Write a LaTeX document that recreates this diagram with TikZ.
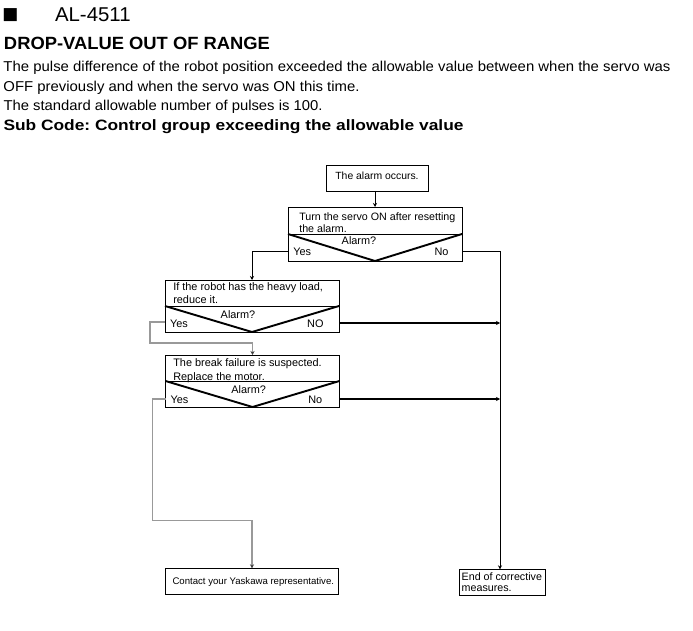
\documentclass[tikz,border=0pt]{standalone}
\usepackage{fontspec}
\setmainfont{Liberation Sans}
\newfontfamily\symfont{DejaVu Sans}
\usetikzlibrary{arrows.meta,calc}
\frenchspacing
\begin{document}
\begin{tikzpicture}[x=1pt,y=-1pt,
  every node/.style={inner sep=0pt,outer sep=0pt},
  hdr/.style={anchor=base west,font=\fontsize{14.3}{16}\selectfont},
  fc/.style={font=\fontsize{10.9}{12}\selectfont},
  fcw/.style={fc,anchor=base west},
  fce/.style={fc,anchor=base east},
  fcc/.style={fc,anchor=base},
  box/.style={draw,line width=0.9pt,anchor=north west},
  sepline/.style={line width=0.9pt},
  vline/.style={line width=1.9pt,line join=miter},
  conn/.style={line width=0.9pt,-{Stealth[length=4pt,width=4pt]}},
  thickconn/.style={line width=1.8pt,-{Stealth[length=4pt,width=4pt]}},
  grayconn/.style={draw=black!40,line width=1.3pt,-{Stealth[length=4pt,width=4pt,color=black!75]}}
]
\useasboundingbox (0,0) rectangle (693,631);

% ---------- header text ----------
\node[anchor=center,font=\symfont\fontsize{17}{17}\selectfont] (sq) at (10.5,14.7) {■};
\node[anchor=base west,font=\fontsize{20}{22}\selectfont] (code) at (55,21.7) {\resizebox{75.7pt}{\height}{AL-4511}};
\node[anchor=base west,font=\bfseries\fontsize{17.7}{20}\selectfont] (title) at (4,49.3) {\resizebox{266pt}{\height}{DROP-VALUE OUT OF RANGE}};
\node[hdr] (l1) at (3.5,71.5) {\resizebox{667pt}{\height}{The pulse difference of the robot position exceeded the allowable value between when the servo was}};
\node[hdr] (l2) at (3.5,91.5) {\resizebox{356pt}{\height}{OFF previously and when the servo was ON this time.}};
\node[hdr] (l3) at (3.5,111) {\resizebox{319pt}{\height}{The standard allowable number of pulses is 100.}};
\node[anchor=base west,font=\bfseries\fontsize{15}{17}\selectfont] (sub) at (3.5,130.7) {\resizebox{460pt}{\height}{Sub Code: Control group exceeding the allowable value}};

% ---------- boxes ----------
\node[box,minimum width=102pt,minimum height=26pt] (start) at (326,165) {};
\node[box,minimum width=174pt,minimum height=54pt] (d1) at (288,207) {};
\node[box,minimum width=174pt,minimum height=52pt] (d2) at (165,280) {};
\node[box,minimum width=174pt,minimum height=52pt] (d3) at (165.5,355) {};
\node[box,minimum width=173pt,minimum height=26pt] (contact) at (165.5,568.3) {};
\node[box,minimum width=86pt,minimum height=26pt] (endb) at (459.5,569.3) {};

% separators and V shapes
\draw[sepline] ([yshift=-27pt]d1.north west) -- ([yshift=-27pt]d1.north east);
\draw[vline] ([yshift=-27pt]d1.north west) -- (d1.south) -- ([yshift=-27pt]d1.north east);
\draw[sepline] ([yshift=-26pt]d2.north west) -- ([yshift=-26pt]d2.north east);
\draw[vline] ([yshift=-26pt]d2.north west) -- (d2.south) -- ([yshift=-26pt]d2.north east);
\draw[sepline] ([yshift=-26pt]d3.north west) -- ([yshift=-26pt]d3.north east);
\draw[vline] ([yshift=-26pt]d3.north west) -- (d3.south) -- ([yshift=-26pt]d3.north east);

% ---------- box texts ----------
\node[fcc,font=\fontsize{10.4}{12}\selectfont] (tstart) at (377,179.8) {The alarm occurs.};

\node[fcw,font=\fontsize{10.7}{12}\selectfont] (t1a) at (299.3,220.6) {Turn the servo ON after resetting};
\node[fcw,font=\fontsize{10.7}{12}\selectfont] (t1b) at (299.3,232.6) {the alarm.};
\node[fcc] (a1) at (359,244) {Alarm?};
\node[fcw] (y1) at (293.3,255.2) {Yes};
\node[fce] (n1) at (448.5,255.2) {No};

\node[fcw] (t2a) at (173.3,290) {If the robot has the heavy load,};
\node[fcw] (t2b) at (173.3,303.2) {reduce it.};
\node[fcc] (a2) at (238,318) {Alarm?};
\node[fcw] (y2) at (170,327) {Yes};
\node[fce] (n2) at (323.5,327) {NO};

\node[fcw] (t3a) at (173.3,366.6) {The break failure is suspected.};
\node[fcw] (t3b) at (173.3,380) {Replace the motor.};
\node[fcc] (a3) at (248.7,393.2) {Alarm?};
\node[fcw] (y3) at (170.5,403.2) {Yes};
\node[fce] (n3) at (322.3,403.2) {No};

\node[fcc,font=\fontsize{9.6}{11}\selectfont] (tcontact) at (253.3,584.6) {Contact your Yaskawa representative.};
\node[fcw,font=\fontsize{10.7}{12}\selectfont] (te1) at (461.7,580.6) {End of corrective};
\node[fcw,font=\fontsize{10.7}{12}\selectfont] (te2) at (461.7,591.6) {measures.};

% ---------- connectors ----------
\coordinate (rx) at (500,0);
\coordinate (d1yes) at ([yshift=10pt]d1.south west);
\coordinate (d1no) at ([yshift=10pt]d1.south east);
\coordinate (d2yes) at ([yshift=10pt]d2.south west);
\coordinate (d2no) at ([yshift=9pt]d2.south east);
\coordinate (d3yes) at ([yshift=8pt]d3.south west);
\coordinate (d3no) at ([yshift=8pt]d3.south east);
\coordinate (endin) at ([xshift=-2.5pt]endb.north);

\draw[conn] (start.south -| d1.north) -- (d1.north);
\draw[conn] (d1yes) -| (d2.north);
\draw[conn] (d1no) -| (endin);
\draw[thickconn] (d2no) -- (d2no -| rx);
\draw[thickconn] (d3no) -- (d3no -| rx);
\draw[grayconn] (d2yes) -- ++(-15,0) |- ($(d3.north)+(0,-12)$) -- (d3.north);
\draw[grayconn] (d3yes) -- ++(-13,0) |- ($(contact.north)+(0,-48)$) -- (contact.north);
\end{tikzpicture}
\end{document}
